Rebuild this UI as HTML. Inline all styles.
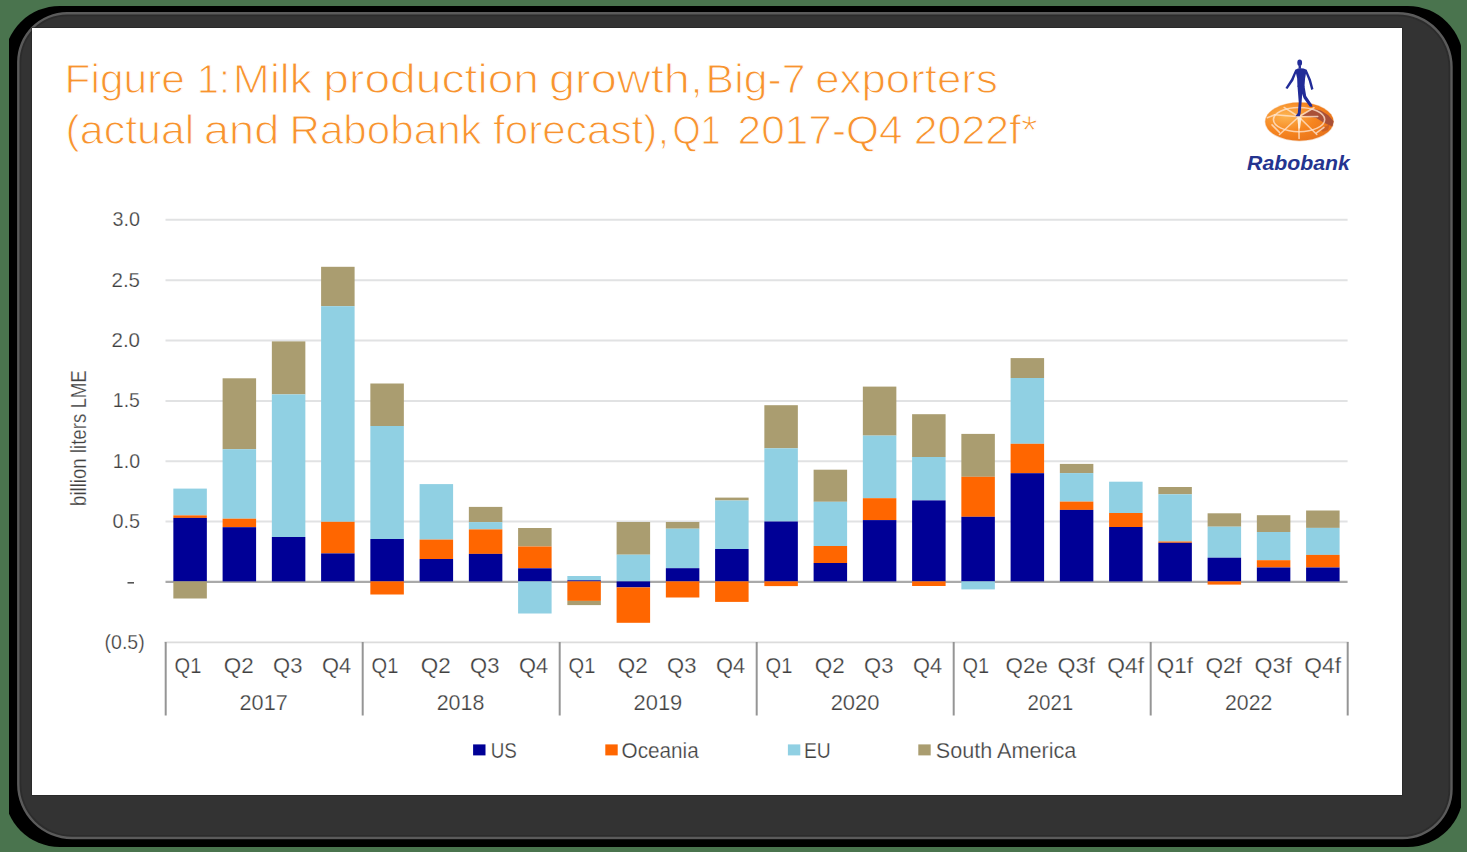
<!DOCTYPE html>
<html lang="en"><head><meta charset="utf-8"><title>Figure 1: Milk production growth, Big-7 exporters</title>
<style>html,body{margin:0;padding:0;background:#4A744E;}body{width:1467px;height:852px;overflow:hidden;font-family:'Liberation Sans', sans-serif;}svg{display:block;}text{font-family:'Liberation Sans', sans-serif;}</style>
</head><body>
<svg width="1467" height="852" viewBox="0 0 1467 852">
<defs>
<clipPath id="oc"><rect x="9" y="6" width="1452" height="840.5"/></clipPath>
<radialGradient id="disc" cx="0.3" cy="0.35" r="0.85"><stop offset="0" stop-color="#FCB552"/><stop offset="0.5" stop-color="#F6851F"/><stop offset="1" stop-color="#E46E1A"/></radialGradient>
<filter id="soft" x="-5%" y="-5%" width="110%" height="110%"><feGaussianBlur stdDeviation="5"/></filter>
</defs>
<rect width="1467" height="852" fill="#4A744E"/>
<clipPath id="oc2"><rect x="9" y="0" width="1452" height="852"/></clipPath>
<rect x="4.3" y="5.9" width="1459" height="841" rx="55.5" ry="55.5" fill="#000" clip-path="url(#oc2)"/>
<path d="M67.1,12.1 H1397.7 A55.0,55.0 0 0 1 1452.7,67.1 V789.2 A50.0,50.0 0 0 1 1402.7,839.2 H72.1 A55.0,55.0 0 0 1 17.1,784.2 V62.1 A50.0,50.0 0 0 1 67.1,12.1 Z" fill="#5b5b5b"/>
<path d="M67.1,14.5 H1397.7 A52.6,52.6 0 0 1 1450.3,67.1 V789.2 A47.6,47.6 0 0 1 1402.7,836.8 H72.1 A52.6,52.6 0 0 1 19.5,784.2 V62.1 A47.6,47.6 0 0 1 67.1,14.5 Z" fill="#2c2c2c"/>
<path d="M67.1,16.3 H1397.7 A50.8,50.8 0 0 1 1448.5,67.1 V789.2 A45.8,45.8 0 0 1 1402.7,835.0 H72.1 A50.8,50.8 0 0 1 21.3,784.2 V62.1 A45.8,45.8 0 0 1 67.1,16.3 Z" fill="#333333"/>
<rect x="31.5" y="27.5" width="1371" height="768" fill="#222"/>
<rect x="32" y="28" width="1370" height="767" fill="#fff"/>
<g stroke="#E1E2E3" stroke-width="2">
<line x1="165.5" x2="1347.6" y1="219.7" y2="219.7"/>
<line x1="165.5" x2="1347.6" y1="280.3" y2="280.3"/>
<line x1="165.5" x2="1347.6" y1="340.6" y2="340.6"/>
<line x1="165.5" x2="1347.6" y1="400.9" y2="400.9"/>
<line x1="165.5" x2="1347.6" y1="461.2" y2="461.2"/>
<line x1="165.5" x2="1347.6" y1="521.5" y2="521.5"/>
</g>
<line x1="165.5" x2="1347.6" y1="581.9" y2="581.9" stroke="#A9A9A9" stroke-width="2.2"/>
<g shape-rendering="auto">
<rect x="173.35" y="488.60" width="33.5" height="26.80" fill="#90D0E3"/>
<rect x="173.35" y="515.40" width="33.5" height="2.50" fill="#FF6600"/>
<rect x="173.35" y="517.90" width="33.5" height="63.50" fill="#000096"/>
<rect x="173.35" y="581.40" width="33.5" height="17.10" fill="#AA9D70"/>
<rect x="222.60" y="378.30" width="33.5" height="70.90" fill="#AA9D70"/>
<rect x="222.60" y="449.20" width="33.5" height="69.50" fill="#90D0E3"/>
<rect x="222.60" y="518.70" width="33.5" height="8.50" fill="#FF6600"/>
<rect x="222.60" y="527.20" width="33.5" height="54.20" fill="#000096"/>
<rect x="271.85" y="341.40" width="33.5" height="53.00" fill="#AA9D70"/>
<rect x="271.85" y="394.40" width="33.5" height="142.60" fill="#90D0E3"/>
<rect x="271.85" y="537.00" width="33.5" height="44.40" fill="#000096"/>
<rect x="321.10" y="266.80" width="33.5" height="39.40" fill="#AA9D70"/>
<rect x="321.10" y="306.20" width="33.5" height="215.60" fill="#90D0E3"/>
<rect x="321.10" y="521.80" width="33.5" height="31.60" fill="#FF6600"/>
<rect x="321.10" y="553.40" width="33.5" height="28.00" fill="#000096"/>
<rect x="370.35" y="383.50" width="33.5" height="42.50" fill="#AA9D70"/>
<rect x="370.35" y="426.00" width="33.5" height="113.00" fill="#90D0E3"/>
<rect x="370.35" y="539.00" width="33.5" height="42.40" fill="#000096"/>
<rect x="370.35" y="581.40" width="33.5" height="13.10" fill="#FF6600"/>
<rect x="419.60" y="484.10" width="33.5" height="55.50" fill="#90D0E3"/>
<rect x="419.60" y="539.60" width="33.5" height="19.40" fill="#FF6600"/>
<rect x="419.60" y="559.00" width="33.5" height="22.40" fill="#000096"/>
<rect x="468.85" y="506.90" width="33.5" height="15.20" fill="#AA9D70"/>
<rect x="468.85" y="522.10" width="33.5" height="7.30" fill="#90D0E3"/>
<rect x="468.85" y="529.40" width="33.5" height="24.50" fill="#FF6600"/>
<rect x="468.85" y="553.90" width="33.5" height="27.50" fill="#000096"/>
<rect x="518.10" y="528.00" width="33.5" height="18.50" fill="#AA9D70"/>
<rect x="518.10" y="546.50" width="33.5" height="21.80" fill="#FF6600"/>
<rect x="518.10" y="568.30" width="33.5" height="13.10" fill="#000096"/>
<rect x="518.10" y="581.40" width="33.5" height="32.10" fill="#90D0E3"/>
<rect x="567.35" y="576.00" width="33.5" height="4.30" fill="#90D0E3"/>
<rect x="567.35" y="580.30" width="33.5" height="1.10" fill="#000096"/>
<rect x="567.35" y="581.40" width="33.5" height="19.50" fill="#FF6600"/>
<rect x="567.35" y="600.90" width="33.5" height="4.20" fill="#AA9D70"/>
<rect x="616.60" y="522.00" width="33.5" height="32.70" fill="#AA9D70"/>
<rect x="616.60" y="554.70" width="33.5" height="26.70" fill="#90D0E3"/>
<rect x="616.60" y="581.40" width="33.5" height="6.00" fill="#000096"/>
<rect x="616.60" y="587.40" width="33.5" height="35.40" fill="#FF6600"/>
<rect x="665.85" y="522.00" width="33.5" height="6.70" fill="#AA9D70"/>
<rect x="665.85" y="528.70" width="33.5" height="39.50" fill="#90D0E3"/>
<rect x="665.85" y="568.20" width="33.5" height="13.20" fill="#000096"/>
<rect x="665.85" y="581.40" width="33.5" height="16.10" fill="#FF6600"/>
<rect x="715.10" y="497.60" width="33.5" height="2.90" fill="#AA9D70"/>
<rect x="715.10" y="500.50" width="33.5" height="48.50" fill="#90D0E3"/>
<rect x="715.10" y="549.00" width="33.5" height="32.40" fill="#000096"/>
<rect x="715.10" y="581.40" width="33.5" height="20.50" fill="#FF6600"/>
<rect x="764.35" y="405.20" width="33.5" height="43.10" fill="#AA9D70"/>
<rect x="764.35" y="448.30" width="33.5" height="73.20" fill="#90D0E3"/>
<rect x="764.35" y="521.50" width="33.5" height="59.90" fill="#000096"/>
<rect x="764.35" y="581.40" width="33.5" height="4.70" fill="#FF6600"/>
<rect x="813.60" y="469.70" width="33.5" height="32.10" fill="#AA9D70"/>
<rect x="813.60" y="501.80" width="33.5" height="44.20" fill="#90D0E3"/>
<rect x="813.60" y="546.00" width="33.5" height="17.00" fill="#FF6600"/>
<rect x="813.60" y="563.00" width="33.5" height="18.40" fill="#000096"/>
<rect x="862.85" y="386.60" width="33.5" height="49.00" fill="#AA9D70"/>
<rect x="862.85" y="435.60" width="33.5" height="62.60" fill="#90D0E3"/>
<rect x="862.85" y="498.20" width="33.5" height="21.90" fill="#FF6600"/>
<rect x="862.85" y="520.10" width="33.5" height="61.30" fill="#000096"/>
<rect x="912.10" y="414.20" width="33.5" height="42.80" fill="#AA9D70"/>
<rect x="912.10" y="457.00" width="33.5" height="43.40" fill="#90D0E3"/>
<rect x="912.10" y="500.40" width="33.5" height="81.00" fill="#000096"/>
<rect x="912.10" y="581.40" width="33.5" height="4.60" fill="#FF6600"/>
<rect x="961.35" y="433.90" width="33.5" height="42.90" fill="#AA9D70"/>
<rect x="961.35" y="476.80" width="33.5" height="40.00" fill="#FF6600"/>
<rect x="961.35" y="516.80" width="33.5" height="64.60" fill="#000096"/>
<rect x="961.35" y="581.40" width="33.5" height="8.00" fill="#90D0E3"/>
<rect x="1010.60" y="358.10" width="33.5" height="19.90" fill="#AA9D70"/>
<rect x="1010.60" y="378.00" width="33.5" height="65.80" fill="#90D0E3"/>
<rect x="1010.60" y="443.80" width="33.5" height="29.40" fill="#FF6600"/>
<rect x="1010.60" y="473.20" width="33.5" height="108.20" fill="#000096"/>
<rect x="1059.85" y="463.90" width="33.5" height="9.20" fill="#AA9D70"/>
<rect x="1059.85" y="473.10" width="33.5" height="28.50" fill="#90D0E3"/>
<rect x="1059.85" y="501.60" width="33.5" height="8.30" fill="#FF6600"/>
<rect x="1059.85" y="509.90" width="33.5" height="71.50" fill="#000096"/>
<rect x="1109.10" y="481.70" width="33.5" height="31.30" fill="#90D0E3"/>
<rect x="1109.10" y="513.00" width="33.5" height="14.00" fill="#FF6600"/>
<rect x="1109.10" y="527.00" width="33.5" height="54.40" fill="#000096"/>
<rect x="1158.35" y="487.00" width="33.5" height="7.30" fill="#AA9D70"/>
<rect x="1158.35" y="494.30" width="33.5" height="47.20" fill="#90D0E3"/>
<rect x="1158.35" y="541.50" width="33.5" height="1.30" fill="#FF6600"/>
<rect x="1158.35" y="542.80" width="33.5" height="38.60" fill="#000096"/>
<rect x="1207.60" y="513.30" width="33.5" height="13.40" fill="#AA9D70"/>
<rect x="1207.60" y="526.70" width="33.5" height="31.00" fill="#90D0E3"/>
<rect x="1207.60" y="557.70" width="33.5" height="23.70" fill="#000096"/>
<rect x="1207.60" y="581.40" width="33.5" height="3.20" fill="#FF6600"/>
<rect x="1256.85" y="515.20" width="33.5" height="16.80" fill="#AA9D70"/>
<rect x="1256.85" y="532.00" width="33.5" height="28.20" fill="#90D0E3"/>
<rect x="1256.85" y="560.20" width="33.5" height="7.30" fill="#FF6600"/>
<rect x="1256.85" y="567.50" width="33.5" height="13.90" fill="#000096"/>
<rect x="1306.10" y="510.50" width="33.5" height="17.40" fill="#AA9D70"/>
<rect x="1306.10" y="527.90" width="33.5" height="27.00" fill="#90D0E3"/>
<rect x="1306.10" y="554.90" width="33.5" height="12.60" fill="#FF6600"/>
<rect x="1306.10" y="567.50" width="33.5" height="13.90" fill="#000096"/>
</g>
<rect x="127.5" y="582" width="6.5" height="1.6" fill="#555"/>
<line x1="164.5" x2="1348.6" y1="642.4" y2="642.4" stroke="#DCDCDC" stroke-width="1.8"/>
<g stroke="#959595" stroke-width="2">
<line x1="165.7" x2="165.7" y1="642" y2="715.5"/>
<line x1="362.7" x2="362.7" y1="642" y2="715.5"/>
<line x1="559.7" x2="559.7" y1="642" y2="715.5"/>
<line x1="756.7" x2="756.7" y1="642" y2="715.5"/>
<line x1="953.7" x2="953.7" y1="642" y2="715.5"/>
<line x1="1150.7" x2="1150.7" y1="642" y2="715.5"/>
<line x1="1347.7" x2="1347.7" y1="642" y2="715.5"/>
</g>
<rect x="473.1" y="744.4" width="12.4" height="11" fill="#000096"/>
<rect x="605.3" y="744.4" width="12.4" height="11" fill="#FF6600"/>
<rect x="787.9" y="744.4" width="12.4" height="11" fill="#90D0E3"/>
<rect x="918.3" y="744.4" width="12.4" height="11" fill="#AA9D70"/>
<text transform="translate(86.4,505.9) rotate(-90)" font-size="22.5" fill="#404040" stroke="#fff" stroke-width="0.25" textLength="135.6" lengthAdjust="spacingAndGlyphs">billion liters LME</text>
<text x="64.52" y="92.90" font-size="40.4" fill="#F8932F" textLength="120.45" lengthAdjust="spacingAndGlyphs" stroke="#fff" stroke-width="1.05" stroke-linejoin="round">Figure</text>
<text x="196.94" y="92.90" font-size="40.4" fill="#F8932F" textLength="32.93" lengthAdjust="spacingAndGlyphs" stroke="#fff" stroke-width="1.05" stroke-linejoin="round">1:</text>
<text x="232.87" y="92.90" font-size="40.4" fill="#F8932F" textLength="79.07" lengthAdjust="spacingAndGlyphs" stroke="#fff" stroke-width="1.05" stroke-linejoin="round">Milk</text>
<text x="323.39" y="92.90" font-size="40.4" fill="#F8932F" textLength="215.65" lengthAdjust="spacingAndGlyphs" stroke="#fff" stroke-width="1.05" stroke-linejoin="round">production</text>
<text x="548.91" y="92.90" font-size="40.4" fill="#F8932F" textLength="154.06" lengthAdjust="spacingAndGlyphs" stroke="#fff" stroke-width="1.05" stroke-linejoin="round">growth,</text>
<text x="705.59" y="92.90" font-size="40.4" fill="#F8932F" textLength="99.98" lengthAdjust="spacingAndGlyphs" stroke="#fff" stroke-width="1.05" stroke-linejoin="round">Big-7</text>
<text x="815.19" y="92.90" font-size="40.4" fill="#F8932F" textLength="182.63" lengthAdjust="spacingAndGlyphs" stroke="#fff" stroke-width="1.05" stroke-linejoin="round">exporters</text>
<text x="65.55" y="143.60" font-size="40.4" fill="#F8932F" textLength="128.77" lengthAdjust="spacingAndGlyphs" stroke="#fff" stroke-width="1.05" stroke-linejoin="round">(actual</text>
<text x="203.96" y="143.60" font-size="40.4" fill="#F8932F" textLength="75.32" lengthAdjust="spacingAndGlyphs" stroke="#fff" stroke-width="1.05" stroke-linejoin="round">and</text>
<text x="289.44" y="143.60" font-size="40.4" fill="#F8932F" textLength="192.24" lengthAdjust="spacingAndGlyphs" stroke="#fff" stroke-width="1.05" stroke-linejoin="round">Rabobank</text>
<text x="492.98" y="143.60" font-size="40.4" fill="#F8932F" textLength="176.22" lengthAdjust="spacingAndGlyphs" stroke="#fff" stroke-width="1.05" stroke-linejoin="round">forecast),</text>
<text x="672.48" y="143.60" font-size="40.4" fill="#F8932F" textLength="48.26" lengthAdjust="spacingAndGlyphs" stroke="#fff" stroke-width="1.05" stroke-linejoin="round">Q1</text>
<text x="737.57" y="143.60" font-size="40.4" fill="#F8932F" textLength="165.14" lengthAdjust="spacingAndGlyphs" stroke="#fff" stroke-width="1.05" stroke-linejoin="round">2017-Q4</text>
<text x="913.75" y="143.60" font-size="40.4" fill="#F8932F" textLength="123.97" lengthAdjust="spacingAndGlyphs" stroke="#fff" stroke-width="1.05" stroke-linejoin="round">2022f*</text>
<text x="112.50" y="226.20" font-size="20.8" fill="#404040" textLength="27.54" lengthAdjust="spacingAndGlyphs" stroke="#fff" stroke-width="0.25" stroke-linejoin="round">3.0</text>
<text x="111.51" y="286.80" font-size="20.8" fill="#404040" textLength="28.55" lengthAdjust="spacingAndGlyphs" stroke="#fff" stroke-width="0.25" stroke-linejoin="round">2.5</text>
<text x="111.51" y="347.10" font-size="20.8" fill="#404040" textLength="28.55" lengthAdjust="spacingAndGlyphs" stroke="#fff" stroke-width="0.25" stroke-linejoin="round">2.0</text>
<text x="112.86" y="407.30" font-size="20.8" fill="#404040" textLength="27.07" lengthAdjust="spacingAndGlyphs" stroke="#fff" stroke-width="0.25" stroke-linejoin="round">1.5</text>
<text x="112.86" y="467.70" font-size="20.8" fill="#404040" textLength="27.17" lengthAdjust="spacingAndGlyphs" stroke="#fff" stroke-width="0.25" stroke-linejoin="round">1.0</text>
<text x="112.50" y="528.00" font-size="20.8" fill="#404040" textLength="27.54" lengthAdjust="spacingAndGlyphs" stroke="#fff" stroke-width="0.25" stroke-linejoin="round">0.5</text>
<text x="104.56" y="649.20" font-size="20.8" fill="#404040" textLength="40.11" lengthAdjust="spacingAndGlyphs" stroke="#fff" stroke-width="0.25" stroke-linejoin="round">(0.5)</text>
<text x="174.55" y="673.10" font-size="21.2" fill="#404040" textLength="26.79" lengthAdjust="spacingAndGlyphs" stroke="#fff" stroke-width="0.25" stroke-linejoin="round">Q1</text>
<text x="371.55" y="673.10" font-size="21.2" fill="#404040" textLength="26.79" lengthAdjust="spacingAndGlyphs" stroke="#fff" stroke-width="0.25" stroke-linejoin="round">Q1</text>
<text x="568.55" y="673.10" font-size="21.2" fill="#404040" textLength="26.79" lengthAdjust="spacingAndGlyphs" stroke="#fff" stroke-width="0.25" stroke-linejoin="round">Q1</text>
<text x="765.55" y="673.10" font-size="21.2" fill="#404040" textLength="26.79" lengthAdjust="spacingAndGlyphs" stroke="#fff" stroke-width="0.25" stroke-linejoin="round">Q1</text>
<text x="223.74" y="673.10" font-size="21.2" fill="#404040" textLength="29.99" lengthAdjust="spacingAndGlyphs" stroke="#fff" stroke-width="0.25" stroke-linejoin="round">Q2</text>
<text x="420.74" y="673.10" font-size="21.2" fill="#404040" textLength="29.99" lengthAdjust="spacingAndGlyphs" stroke="#fff" stroke-width="0.25" stroke-linejoin="round">Q2</text>
<text x="617.74" y="673.10" font-size="21.2" fill="#404040" textLength="29.99" lengthAdjust="spacingAndGlyphs" stroke="#fff" stroke-width="0.25" stroke-linejoin="round">Q2</text>
<text x="814.74" y="673.10" font-size="21.2" fill="#404040" textLength="29.99" lengthAdjust="spacingAndGlyphs" stroke="#fff" stroke-width="0.25" stroke-linejoin="round">Q2</text>
<text x="273.06" y="673.10" font-size="21.2" fill="#404040" textLength="29.35" lengthAdjust="spacingAndGlyphs" stroke="#fff" stroke-width="0.25" stroke-linejoin="round">Q3</text>
<text x="470.06" y="673.10" font-size="21.2" fill="#404040" textLength="29.35" lengthAdjust="spacingAndGlyphs" stroke="#fff" stroke-width="0.25" stroke-linejoin="round">Q3</text>
<text x="667.06" y="673.10" font-size="21.2" fill="#404040" textLength="29.35" lengthAdjust="spacingAndGlyphs" stroke="#fff" stroke-width="0.25" stroke-linejoin="round">Q3</text>
<text x="864.06" y="673.10" font-size="21.2" fill="#404040" textLength="29.35" lengthAdjust="spacingAndGlyphs" stroke="#fff" stroke-width="0.25" stroke-linejoin="round">Q3</text>
<text x="322.07" y="673.10" font-size="21.2" fill="#404040" textLength="29.11" lengthAdjust="spacingAndGlyphs" stroke="#fff" stroke-width="0.25" stroke-linejoin="round">Q4</text>
<text x="519.07" y="673.10" font-size="21.2" fill="#404040" textLength="29.11" lengthAdjust="spacingAndGlyphs" stroke="#fff" stroke-width="0.25" stroke-linejoin="round">Q4</text>
<text x="716.07" y="673.10" font-size="21.2" fill="#404040" textLength="29.11" lengthAdjust="spacingAndGlyphs" stroke="#fff" stroke-width="0.25" stroke-linejoin="round">Q4</text>
<text x="913.07" y="673.10" font-size="21.2" fill="#404040" textLength="29.11" lengthAdjust="spacingAndGlyphs" stroke="#fff" stroke-width="0.25" stroke-linejoin="round">Q4</text>
<text x="962.56" y="673.10" font-size="21.2" fill="#404040" textLength="26.58" lengthAdjust="spacingAndGlyphs" stroke="#fff" stroke-width="0.25" stroke-linejoin="round">Q1</text>
<text x="1005.64" y="673.10" font-size="21.2" fill="#404040" textLength="42.28" lengthAdjust="spacingAndGlyphs" stroke="#fff" stroke-width="0.25" stroke-linejoin="round">Q2e</text>
<text x="1057.61" y="673.10" font-size="21.2" fill="#404040" textLength="37.27" lengthAdjust="spacingAndGlyphs" stroke="#fff" stroke-width="0.25" stroke-linejoin="round">Q3f</text>
<text x="1107.22" y="673.10" font-size="21.2" fill="#404040" textLength="36.75" lengthAdjust="spacingAndGlyphs" stroke="#fff" stroke-width="0.25" stroke-linejoin="round">Q4f</text>
<text x="1156.84" y="673.10" font-size="21.2" fill="#404040" textLength="36.24" lengthAdjust="spacingAndGlyphs" stroke="#fff" stroke-width="0.25" stroke-linejoin="round">Q1f</text>
<text x="1205.43" y="673.10" font-size="21.2" fill="#404040" textLength="36.45" lengthAdjust="spacingAndGlyphs" stroke="#fff" stroke-width="0.25" stroke-linejoin="round">Q2f</text>
<text x="1254.61" y="673.10" font-size="21.2" fill="#404040" textLength="37.27" lengthAdjust="spacingAndGlyphs" stroke="#fff" stroke-width="0.25" stroke-linejoin="round">Q3f</text>
<text x="1304.22" y="673.10" font-size="21.2" fill="#404040" textLength="36.75" lengthAdjust="spacingAndGlyphs" stroke="#fff" stroke-width="0.25" stroke-linejoin="round">Q4f</text>
<text x="239.58" y="709.80" font-size="21.2" fill="#404040" textLength="48.12" lengthAdjust="spacingAndGlyphs" stroke="#fff" stroke-width="0.25" stroke-linejoin="round">2017</text>
<text x="436.69" y="709.80" font-size="21.2" fill="#404040" textLength="47.71" lengthAdjust="spacingAndGlyphs" stroke="#fff" stroke-width="0.25" stroke-linejoin="round">2018</text>
<text x="633.57" y="709.80" font-size="21.2" fill="#404040" textLength="48.74" lengthAdjust="spacingAndGlyphs" stroke="#fff" stroke-width="0.25" stroke-linejoin="round">2019</text>
<text x="830.66" y="709.80" font-size="21.2" fill="#404040" textLength="48.85" lengthAdjust="spacingAndGlyphs" stroke="#fff" stroke-width="0.25" stroke-linejoin="round">2020</text>
<text x="1027.53" y="709.80" font-size="21.2" fill="#404040" textLength="45.73" lengthAdjust="spacingAndGlyphs" stroke="#fff" stroke-width="0.25" stroke-linejoin="round">2021</text>
<text x="1225.00" y="709.80" font-size="21.2" fill="#404040" textLength="47.29" lengthAdjust="spacingAndGlyphs" stroke="#fff" stroke-width="0.25" stroke-linejoin="round">2022</text>
<text x="490.71" y="758.00" font-size="21.2" fill="#404040" textLength="26.10" lengthAdjust="spacingAndGlyphs" stroke="#fff" stroke-width="0.25" stroke-linejoin="round">US</text>
<text x="621.52" y="758.00" font-size="21.2" fill="#404040" textLength="77.17" lengthAdjust="spacingAndGlyphs" stroke="#fff" stroke-width="0.25" stroke-linejoin="round">Oceania</text>
<text x="803.99" y="758.00" font-size="21.2" fill="#404040" textLength="26.79" lengthAdjust="spacingAndGlyphs" stroke="#fff" stroke-width="0.25" stroke-linejoin="round">EU</text>
<text x="935.80" y="758.00" font-size="21.2" fill="#404040" textLength="140.48" lengthAdjust="spacingAndGlyphs" stroke="#fff" stroke-width="0.25" stroke-linejoin="round">South America</text>
<text x="1247.10" y="170.40" font-size="21" fill="#24348F" textLength="102.76" lengthAdjust="spacingAndGlyphs" font-weight="bold" font-style="italic">Rabobank</text>
<g transform="translate(1258,95) scale(0.06223)">
<ellipse cx="665" cy="430" rx="558" ry="316" fill="#F6DCC6"/>
<ellipse cx="665" cy="428" rx="548" ry="306" fill="url(#disc)"/>
<path d="M700,335 L870,215 L1010,250 L1130,325 L1215,420 L1195,505 L1060,445 L930,365 Z" fill="#A44E3A" opacity="0.95"/>
<path d="M990,545 L1150,475 L1125,565 L1040,590 Z" fill="#C25A2A" opacity="0.75"/>
<g stroke="#FFE6CF" stroke-opacity="0.78" fill="none" stroke-width="25" stroke-linecap="round" filter="url(#soft)">
<ellipse cx="660" cy="395" rx="412" ry="195"/>
<line x1="655" y1="350" x2="660" y2="700"/>
<line x1="655" y1="350" x2="420" y2="200"/>
<line x1="655" y1="350" x2="270" y2="318"/>
<line x1="655" y1="350" x2="345" y2="635"/>
<line x1="655" y1="350" x2="945" y2="635"/>
<line x1="655" y1="350" x2="960" y2="345"/>
<line x1="655" y1="350" x2="900" y2="205"/>
<line x1="270" y1="318" x2="150" y2="365"/>
<line x1="345" y1="600" x2="225" y2="480"/>
<line x1="940" y1="610" x2="1060" y2="520"/>
</g>
<path d="M630,360 L700,360 L675,540 L650,540 Z" fill="#FFF3E4" opacity="0.85"/>
</g>
<g transform="translate(1230,50) scale(0.15838)" fill="#222C98">
<ellipse cx="440" cy="80" rx="15" ry="20"/>
<rect x="433" y="96" width="15" height="22"/>
<path d="M412,124 Q445,108 484,124 L474,180 L470,232 L426,232 L424,180 Z"/>
<path d="M412,124 L423,132 L400,192 L363,247 L350,240 L386,183 Z"/>
<path d="M484,124 L473,134 L497,194 L513,252 L527,247 L511,186 Z"/>
<path d="M426,225 L460,225 L452,330 L446,400 L440,418 L413,418 L428,398 L434,330 Z"/>
<path d="M446,225 L470,225 L481,290 L518,345 L521,359 L504,359 L465,305 L450,262 Z"/>
</g>

</svg>
</body></html>
